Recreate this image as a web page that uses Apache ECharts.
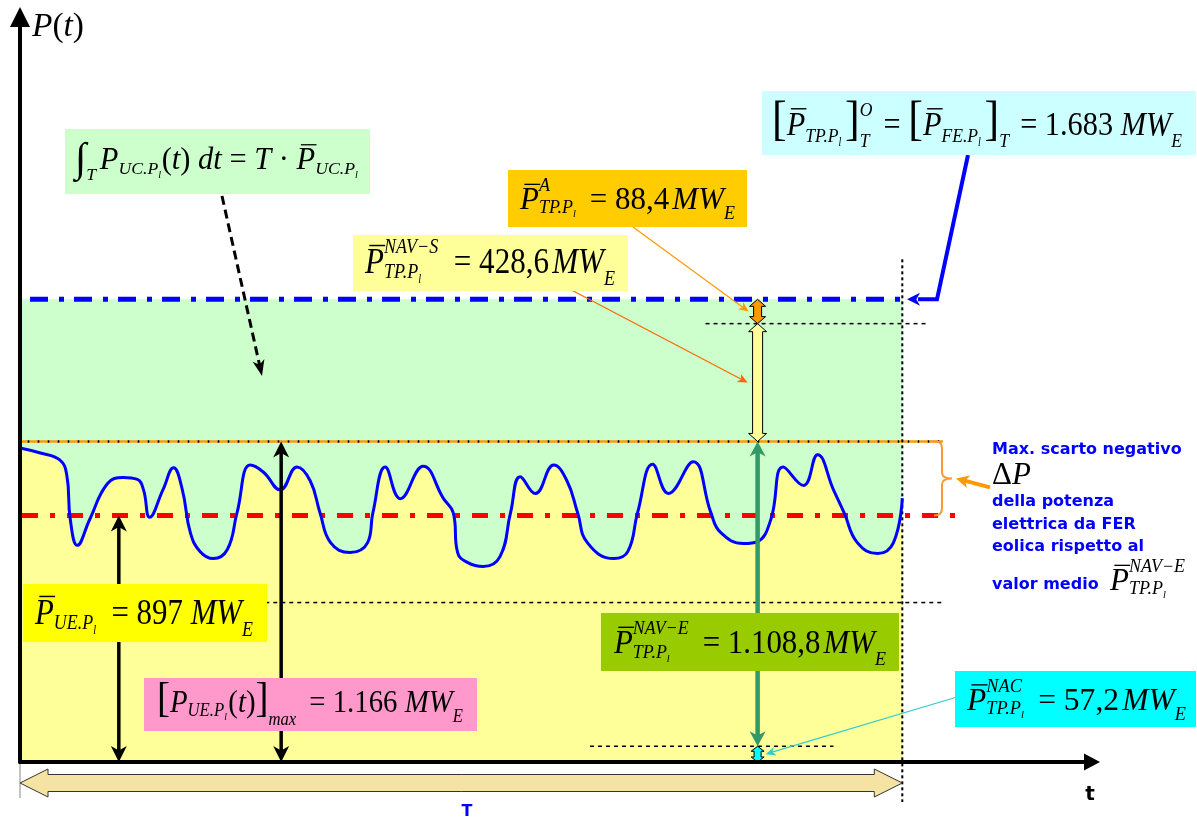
<!DOCTYPE html>
<html>
<head>
<meta charset="utf-8">
<script src="https://cdn.jsdelivr.net/npm/echarts@6/dist/echarts.min.js"></script>
<style>
  html, body { margin: 0; padding: 0; background: #ffffff; }
  #chart { width: 1197px; height: 822px; }
</style>
</head>
<body>
<div id="chart"></div>
<script>
// Wind-farm electrical output P(t) over the observation window T (t in % of T, P in MW_E)
const timeSamples = [0, 2.3, 4.5, 5.3, 5.7, 6.5, 7.9, 9.9, 11.7, 13.3, 14.0, 14.7, 16.2, 17.4, 18.4, 19.3, 20.4,
  21.9, 23.5, 24.6, 26.1, 27.6, 29.5, 31.4, 32.9, 34.0, 35.2, 37.4, 39.4, 40.0, 41.4, 43.1, 45.7, 48.0, 49.1,
  49.6, 50.7, 52.5, 54.4, 55.6, 56.7, 58.4, 60.5, 62.0, 63.2, 64.3, 67.3, 68.9, 70.0, 71.7, 73.5, 76.3, 78.3,
  79.4, 82.0, 83.6, 85.1, 86.5, 88.8, 90.4, 92.2, 93.4, 94.9, 97.2, 99.0, 100];
const powerSamples = [1142, 1124, 1099, 1044, 882, 788, 882, 1012, 1035, 1028, 990, 890, 990, 1070, 990, 835, 766,
  740, 773, 907, 1080, 1054, 990, 1073, 1022, 907, 798, 762, 798, 907, 1073, 958, 1076, 958, 907,
  762, 726, 711, 747, 907, 1038, 977, 1080, 1022, 907, 798, 740, 766, 907, 1083, 977, 1092, 907,
  835, 795, 802, 882, 1073, 1006, 1118, 990, 907, 798, 758, 798, 960];

// Reference power levels (MW_E)
const P_FE_TP = 1683;     // [P̄_TP]^O_T = [P̄_FE]_T
const P_UE_MAX = 1166;    // [P_UE(t)]_max
const P_UE_MEAN = 897;    // P̄_UE
const P_TP_A = 88.4;
const P_TP_NAVS = 428.6;
const P_TP_NAVE = 1108.8;
const P_TP_NAC = 57.2;
const P_GUIDE = 580;      // auxiliary dashed level
const T_SPAN = 100;       // end of window T

// t positions of the vertical dimension markers
const markerT = [11.2, 29.6, 83.6];

const SERIF = "'Liberation Serif', 'Times New Roman', serif";
const SANS = "'DejaVu Sans', Verdana, sans-serif";

// ---------- small math typesetter (overline, sub/superscripts) ----------
const measureCtx = document.createElement('canvas').getContext('2d');
function textWidth(s, font) { measureCtx.font = font; return measureCtx.measureText(s).width; }

function mathLayout(items, x, base, fs, out, color) {
  for (let item of items) {
    if (typeof item === 'string') item = { t: item };
    if (item.sup || item.sub) {
      let xe = x;
      if (item.sup) xe = Math.max(xe, mathLayout(item.sup, x, base - fs * (item.up ?? 0.6), fs * 0.58, out, color));
      if (item.sub) xe = Math.max(xe, mathLayout(item.sub, x, base + fs * (item.dn ?? 0.15), fs * 0.58, out, color));
      x = xe + (item.sp || 0) * fs;
      continue;
    }
    const size = fs * (item.k || 1);
    const style = item.i ? 'italic' : 'normal';
    const font = style + ' ' + size.toFixed(2) + 'px ' + SERIF;
    const w = textWidth(item.t, font);
    const by = base + (item.dy || 0) * size;
    out.push({
      type: 'text', x: x, y: by - 0.34 * size, z: 101,
      style: { text: item.t, fontSize: size, fontFamily: SERIF, fontStyle: style,
               fill: color, align: 'left', verticalAlign: 'middle' }
    });
    if (item.bar) {
      out.push({
        type: 'line', z: 101,
        shape: { x1: x + size * 0.14, y1: by - size * 0.86, x2: x + w + size * 0.04, y2: by - size * 0.86 },
        style: { stroke: color, lineWidth: Math.max(1, size / 24) }
      });
    }
    x += w + (item.sp || 0) * fs;
  }
  return x;
}
// lays a formula out from x on baseline `base`, scaled so it ends at xEnd, stretched by sy
function formula(items, x, base, fs, xEnd, sy, color) {
  const probe = [];
  const xe = mathLayout(items, x, base, fs, probe, color || '#000');
  const f = xEnd ? (xEnd - x) / (xe - x) : 1;
  const out = [];
  mathLayout(items, x, base, fs * f, out, color || '#000');
  return [{ type: 'group', z: 101, originX: x, originY: base, scaleY: sy || 1, children: out }];
}

const it = (t, o) => Object.assign({ t: t, i: 1 }, o || {});
const rm = (t, o) => Object.assign({ t: t }, o || {});
const Pbar = it('P', { bar: 1 });
const subPl = lab => [it(lab), { sub: [it('l')], dn: 0.2 }];
const MWE = [it('M'), it('W'), { sub: [it('E')], dn: 0.3 }];
const EQ = rm(' = ');

const F_INT = [rm('\u222B', { k: 1.35, dy: 0.08 }), { sub: [it('T')], dn: 0.35, sp: 0.12 }, it('P'),
  { sub: subPl('UC.P'), dn: 0.15, sp: 0.02 }, rm('('), it('t'), rm(')'), rm(' '), it('dt'), EQ, it('T'),
  rm(' \u00B7 '), Pbar, { sub: subPl('UC.P'), dn: 0.15 }];
const F_TOP = [rm('[', { k: 1.45 }), Pbar, { sub: subPl('TP.P'), dn: 0.15, sp: 0.12 }, rm(']', { k: 1.45 }),
  { sup: [it('O')], sub: [it('T')], up: 0.6, dn: 0.3, sp: 0.12 }, EQ, rm('[', { k: 1.45 }), Pbar,
  { sub: subPl('FE.P'), dn: 0.15, sp: 0.12 }, rm(']', { k: 1.45 }), { sub: [it('T')], dn: 0.3, sp: 0.12 },
  EQ, rm('1.683 ')].concat(MWE);
const F_A = [Pbar, { sup: [it('A')], sub: subPl('TP.P'), dn: 0.1, sp: 0.2 }, EQ, rm('88,4'),
  rm(' ', { k: 0.4 })].concat(MWE);
const F_NAVS = [Pbar, { sup: [it('NAV\u2212S')], sub: subPl('TP.P'), dn: 0.1, sp: 0.25 }, EQ, rm('428,6'),
  rm(' ', { k: 0.4 })].concat(MWE);
const F_UE = [Pbar, { sub: subPl('UE.P'), dn: 0.1, sp: 0.25 }, EQ, rm('897 ')].concat(MWE);
const F_MAX = [rm('[', { k: 1.35 }), it('P'), { sub: subPl('UE.P'), dn: 0.1, sp: 0.05 }, rm('('), it('t'),
  rm(')'), rm(']', { k: 1.35 }), { sub: [it('max')], dn: 0.4, sp: 0.2 }, EQ, rm('1.166 ')].concat(MWE);
const F_NAVE = [Pbar, { sup: [it('NAV\u2212E')], sub: subPl('TP.P'), dn: 0.1, sp: 0.2 }, EQ, rm('1.108,8'),
  rm(' ', { k: 0.4 })].concat(MWE);
const F_NAC = [Pbar, { sup: [it('NAC')], sub: subPl('TP.P'), dn: 0.1, sp: 0.2 }, EQ, rm('57,2'),
  rm(' ', { k: 0.4 })].concat(MWE);
const F_DP = [rm('\u0394'), it('P')];
const F_REF = [Pbar, { sup: [it('NAV\u2212E')], sub: subPl('TP.P'), dn: 0.1 }];
const F_PT = [it('P'), rm('('), it('t'), rm(')')];

// ---------- label boxes ----------
function box(x1, y1, x2, y2, fill) {
  return { type: 'rect', z: 100, shape: { x: x1, y: y1, width: x2 - x1, height: y2 - y1 }, style: { fill: fill } };
}
function sansText(s, x, y, size, color, align) {
  return { type: 'text', x: x, y: y, z: 101,
    style: { text: s, fontSize: size, fontFamily: SANS, fontWeight: 'bold', fill: color,
             align: align || 'left', verticalAlign: 'middle' } };
}

const BLUE_TXT = '#0000FF';
const graphics = [].concat(
  formula(F_PT, 32, 39, 33, 84),
  [box(65, 129, 370, 194, '#CCFFCC')], formula(F_INT, 75, 171, 27, 358),
  [box(762, 91, 1196, 155, '#CCFFFF')], formula(F_TOP, 772, 138, 30, 1182, 1.12),
  [box(508, 170, 747, 227, '#FFCC00')], formula(F_A, 520, 211, 30, 735),
  [box(353, 235, 628, 291, '#FFFF99')], formula(F_NAVS, 365, 276, 30, 615, 1.14),
  [box(23, 584, 267, 642, '#FFFF00')], formula(F_UE, 35, 627, 30, 253, 1.15),
  [box(144, 678, 477, 731, '#FF99CC')], formula(F_MAX, 157, 714, 30, 463, 1.08),
  [box(601, 613, 899, 671, '#99CC00')], formula(F_NAVE, 614, 656, 30, 886, 1.08),
  [box(955, 671, 1196, 727, '#00FFFF')], formula(F_NAC, 967, 712, 30, 1186),
  [sansText('Max. scarto negativo', 992, 450, 16, BLUE_TXT)],
  formula(F_DP, 992, 486, 31, null),
  [sansText('della potenza', 992, 502, 16, BLUE_TXT),
   sansText('elettrica da FER', 992, 525, 16, BLUE_TXT),
   sansText('eolica rispetto al', 992, 547, 16, BLUE_TXT),
   sansText('valor medio', 992, 585, 16, BLUE_TXT)],
  formula(F_REF, 1110, 592, 31, null),
  [sansText('t', 1090, 795, 20, '#000000', 'center'),
   sansText('T', 467, 812, 16, BLUE_TXT, 'center')]
);

// ---------- mark helpers (pixel geometry from axis coordinates) ----------
function head(tip, from, len, half, color) {
  const dx = tip[0] - from[0], dy = tip[1] - from[1], L = Math.hypot(dx, dy) || 1;
  const ux = dx / L, uy = dy / L, nx = -uy, ny = ux;
  const bx = tip[0] - ux * len, by = tip[1] - uy * len;
  return { type: 'polygon', shape: { points: [tip, [bx + nx * half, by + ny * half],
    [tip[0] - ux * len * 0.72, tip[1] - uy * len * 0.72], [bx - nx * half, by - ny * half]] },
    style: { fill: color, stroke: null } };
}
function arrow(p0, p1, o) {
  const dx = p1[0] - p0[0], dy = p1[1] - p0[1], L = Math.hypot(dx, dy) || 1;
  const ux = dx / L, uy = dy / L, cut = o.len * 0.6;
  const a = o.both ? [p0[0] + ux * cut, p0[1] + uy * cut] : p0;
  const b = [p1[0] - ux * cut, p1[1] - uy * cut];
  const els = [{ type: 'line', shape: { x1: a[0], y1: a[1], x2: b[0], y2: b[1] },
    style: { stroke: o.color, lineWidth: o.width, lineDash: o.dash || null, fill: null } }];
  els.push(head(p1, p0, o.len, o.half, o.color));
  if (o.both) els.push(head(p0, p1, o.len, o.half, o.color));
  return els;
}
function blockV(x, yTop, yBot, a, b, h, fill) {
  return { type: 'polygon', shape: { points: [[x, yTop], [x + b, yTop + h], [x + a, yTop + h], [x + a, yBot - h],
    [x + b, yBot - h], [x, yBot], [x - b, yBot - h], [x - a, yBot - h], [x - a, yTop + h], [x - b, yTop + h]] },
    style: { fill: fill, stroke: '#000', lineWidth: 1 } };
}
function blockH(x1, x2, yc, a, b, h, fill) {
  return { type: 'polygon', shape: { points: [[x1, yc], [x1 + h, yc - b], [x1 + h, yc - a], [x2 - h, yc - a],
    [x2 - h, yc - b], [x2, yc], [x2 - h, yc + b], [x2 - h, yc + a], [x1 + h, yc + a], [x1 + h, yc + b]] },
    style: { fill: fill, stroke: '#333', lineWidth: 1 } };
}
function hline(x1, x2, y, stroke, width, dash, offset) {
  return { type: 'line', shape: { x1: x1, y1: y, x2: x2, y2: y },
    style: { stroke: stroke, lineWidth: width, lineDash: dash || null, lineDashOffset: offset || 0, fill: null } };
}

// horizontal reference lines drawn over the filled areas
function renderGuides(params, api) {
  const X = t => api.coord([t, 0])[0];
  const Y = p => api.coord([0, p])[1];
  const x0 = X(0), xT = X(T_SPAN);
  return { type: 'group', children: [
    hline(X(27.8), X(104.6), Y(P_GUIDE), '#000', 1.5, [4, 4]),
    hline(X(77.7), X(103.0), Y(P_FE_TP - P_TP_A), '#000', 1.5, [4, 4]),
    hline(X(64.6), X(92.2), Y(P_TP_NAC), '#000', 1.5, [4, 4]),
    hline(x0, X(104.6), Y(P_UE_MAX), '#FF9900', 2.5, [7, 3]),
    hline(x0, X(104.6), Y(P_UE_MAX), '#000', 2.5, [2, 8], -7.5),
    hline(x0 + 2, X(106.0), Y(P_UE_MEAN), '#FF0000', 5, [16, 12, 5, 12]),
    hline(x0 + 10, xT + 3, Y(P_FE_TP), '#0000FF', 5, [18, 11, 5, 10]),
    { type: 'line', shape: { x1: xT, y1: Y(P_FE_TP) - 40, x2: xT, y2: Y(0) + 40 },
      style: { stroke: '#000', lineWidth: 2, lineDash: [3, 3] } }
  ] };
}

// dimension arrows, call-outs and the T span
function renderMarkers(params, api) {
  const X = t => api.coord([t, 0])[0];
  const Y = p => api.coord([0, p])[1];
  const x0 = X(0), xT = X(T_SPAN), y0 = Y(0);
  const yFE = Y(P_FE_TP), yMax = Y(P_UE_MAX), yMean = Y(P_UE_MEAN);
  const yA = Y(P_FE_TP - P_TP_A), yNac = Y(P_TP_NAC);
  const xMean = X(markerT[0]), xMaxM = X(markerT[1]), xL = X(markerT[2]);
  const black = { color: '#000', width: 3.5, len: 16, half: 8, both: true };
  const yMid = (yMax + yMean) / 2;
  const brace = 'M 930 ' + yMax + ' L 936 ' + yMax + ' Q 942 ' + yMax + ' 942 ' + (yMax + 7) +
    ' L 942 ' + (yMid - 6) + ' Q 942 ' + yMid + ' 952 ' + yMid + ' Q 942 ' + yMid + ' 942 ' + (yMid + 6) +
    ' L 942 ' + (yMean - 7) + ' Q 942 ' + yMean + ' 934 ' + yMean;
  const children = [].concat(
    arrow([xMean, y0], [xMean, yMean], black),
    arrow([xMaxM, y0], [xMaxM, yMax], black),
    arrow([xL, yNac], [xL, yMax], { color: '#339966', width: 4.5, len: 15, half: 8, both: true }),
    [blockV(xL, yNac, y0, 3.5, 6.5, 5, '#00FFFF'),
     blockV(xL, yA, yMax, 5, 9, 8, '#FFFF99'),
     blockV(xL, yFE, yA, 4, 8, 7, '#FF9900')],
    arrow([633, 227], [xL - 9, (yA + yFE) / 2], { color: '#FF9900', width: 1.2, len: 10, half: 4.5 }),
    arrow([560, 284], [xL - 10, (yMax + yA) / 2], { color: '#FF6600', width: 1.2, len: 10, half: 4.5 }),
    arrow([957, 697], [xL + 8, (y0 + yNac) / 2], { color: '#33CCCC', width: 1.2, len: 10, half: 4.5 }),
    [{ type: 'path', shape: { pathData: brace }, style: { stroke: '#FF9933', lineWidth: 2, fill: null } }],
    arrow([990, yMid + 9], [956, yMid], { color: '#FF9900', width: 4, len: 13, half: 6.5 }),
    [{ type: 'polyline', shape: { points: [[968, 155], [937, yFE], [918, yFE]] },
       style: { stroke: '#0000FF', lineWidth: 4, fill: null } }],
    [head([907, yFE], [937, yFE], 13, 6.5, '#0000FF')],
    arrow([222, 196], [262, 376], { color: '#000', width: 3, len: 16, half: 6, dash: [9, 5] }),
    [{ type: 'line', shape: { x1: x0, y1: y0, x2: x0, y2: y0 + 36 }, style: { stroke: '#888', lineWidth: 1 } },
     blockH(x0, xT, y0 + 21, 8.5, 14, 28, '#F4E3A2')]
  );
  return { type: 'group', children: children };
}

const curveData = timeSamples.map((t, i) => [t, powerSamples[i]]);

const option = {
  animation: false,
  backgroundColor: '#ffffff',
  grid: { left: 20, right: 105, top: 17, bottom: 60, show: false },
  xAxis: {
    type: 'value', min: 0, max: 121.5, z: 10,
    axisLine: { show: true, onZero: true, symbol: ['none', 'triangle'], symbolSize: [17, 16],
                lineStyle: { color: '#000', width: 4 } },
    axisTick: { show: false }, axisLabel: { show: false }, splitLine: { show: false }
  },
  yAxis: {
    type: 'value', min: 0, max: 2710, z: 10,
    axisLine: { show: true, onZero: true, symbol: ['none', 'triangle'], symbolSize: [20, 20],
                lineStyle: { color: '#000', width: 4 } },
    axisTick: { show: false }, axisLabel: { show: false }, splitLine: { show: false }
  },
  series: [
    { // band up to the plant rating level
      type: 'line', z: 1, silent: true, symbol: 'none',
      data: [[0, P_FE_TP], [T_SPAN, P_FE_TP]],
      lineStyle: { width: 0 }, areaStyle: { color: '#CCFFCC', opacity: 1 }
    },
    { // energy under the output curve
      type: 'line', z: 1.5, silent: true, symbol: 'none', smooth: 0.45,
      data: curveData, lineStyle: { width: 0 }, areaStyle: { color: '#FFFF99', opacity: 1 }
    },
    { type: 'custom', z: 2, silent: true, clip: false, data: [[0, 0]], renderItem: renderGuides },
    { // output curve
      type: 'line', z: 3, silent: true, symbol: 'none', smooth: 0.45,
      data: curveData, lineStyle: { color: '#0000FF', width: 3 }
    },
    { type: 'custom', z: 4, silent: true, clip: false, data: [[0, 0]], renderItem: renderMarkers }
  ],
  graphic: { elements: graphics }
};

const chart = echarts.init(document.getElementById('chart'));
chart.setOption(option);
</script>
</body>
</html>
